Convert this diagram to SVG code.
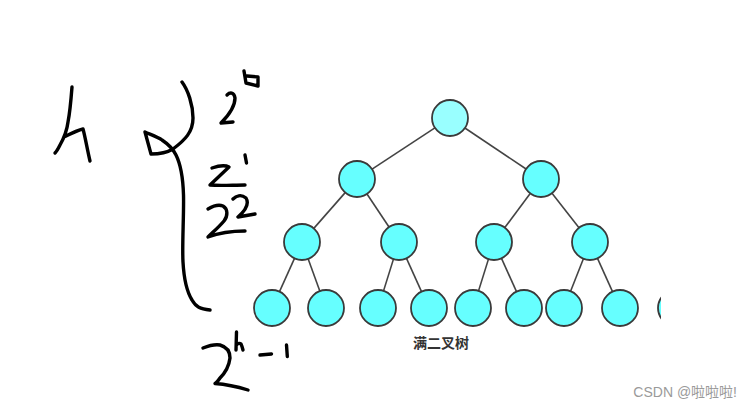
<svg xmlns="http://www.w3.org/2000/svg" width="754" height="410" viewBox="0 0 754 410">
<style>
.ink{fill:none;stroke:#000;stroke-width:3.4;stroke-linecap:round;stroke-linejoin:round}
.edge{stroke:#444;stroke-width:1.6;fill:none}
.n{fill:#66ffff;stroke:#3a3a3a;stroke-width:1.8}
.root{fill:#99ffff;stroke:#3a3a3a;stroke-width:1.8}
.cap{font-family:"Noto Sans CJK SC","Liberation Sans",sans-serif;font-size:14px;font-weight:bold;fill:#333;text-anchor:middle}
.wm{font-family:"Liberation Sans","Noto Sans CJK SC",sans-serif;font-size:14px;fill:#9a9a9a;text-anchor:end}
</style>
<defs>
<clipPath id="clipR"><rect x="250" y="80" width="411" height="280"/></clipPath>
</defs>
<rect width="754" height="410" fill="#fff"/>

<g id="handwriting">
<path id="h" class="ink" d="M72,87 C71,100 70,112 68,122 C67,130 64,138 60,145 C58,149 56,152 55,153 M64,137 C70,134 78,130 83,129 C85,136 87,148 90,161"/>
<path id="bracket" class="ink" d="M182,82 C188,90 193,105 193,118 C193,132 185,140 173,149 C168,152 160,154 151,154 L145,132 C152,135 158,137 162,140 C168,144 173,149 176,155 C181,165 183,178 183.5,195 C184,215 182,245 183,262 C184,280 187,292 192,300 C196,307 200,309 210,310"/>
<path id="two0" class="ink" d="M227,95 C230,92 234,92 235,98 C235,106 230,114 221,123 L233,122"/>
<path id="sup0" class="ink" d="M244,71 L246,83 L258,86 L258,77 L247,76"/>
<path id="two1" class="ink" d="M212,168 C218,166 225,165 229,167 L210,185 C220,186 233,185 245,185"/>
<path id="sup1" class="ink" d="M245,155 L246.5,163"/>
<path id="two2" class="ink" d="M208,209 C213,206 218,204 223,206 C228,209 228,216 224,221 C219,227 213,232 208,237 C216,234 226,231 245,231"/>
<path id="sup2" class="ink" d="M233,199 C236,196 241,194 246,198 C249,203 246,210 238,217 L255,214"/>
<path id="twoh" class="ink" d="M203,348 C208,346 214,344 220,345 C227,347 230,352 230,358 C229,366 225,373 220,378 C218,381 216,383 215,383.5 C222,384 235,386 248,390"/>
<path id="suph" class="ink" d="M236.5,332 L236,350 M236.5,345 C238,343 240,343 241,344 C242,346 242.5,348 243,350"/>
<path id="minus1" class="ink" d="M260,355 L271.5,354 M286.5,345 L287.3,356.5"/>
</g>

<g id="connectors">
<line class="edge" x1="434.9" y1="127.9" x2="372.1" y2="169.1"/>
<line class="edge" x1="464.9" y1="128" x2="526.1" y2="169"/>
<line class="edge" x1="345.2" y1="192.6" x2="313.8" y2="228.4"/>
<line class="edge" x1="367" y1="194" x2="389" y2="227"/>
<line class="edge" x1="530.2" y1="193.4" x2="504.8" y2="227.6"/>
<line class="edge" x1="552" y1="193.2" x2="579" y2="227.8"/>
<line class="edge" x1="294.5" y1="258.4" x2="279.5" y2="291.6"/>
<line class="edge" x1="308.2" y1="258.9" x2="319.8" y2="291.1"/>
<line class="edge" x1="393.5" y1="259.1" x2="383.5" y2="290.9"/>
<line class="edge" x1="406.5" y1="258.4" x2="421.5" y2="291.6"/>
<line class="edge" x1="488.5" y1="259.1" x2="478.5" y2="290.9"/>
<line class="edge" x1="501.5" y1="258.4" x2="516.5" y2="291.6"/>
<line class="edge" x1="583.4" y1="258.7" x2="570.6" y2="291.3"/>
<line class="edge" x1="597.5" y1="258.4" x2="612.5" y2="291.6"/>
</g>

<g id="n0"><circle class="root" cx="450" cy="118" r="18"/></g>
<g id="n1"><circle class="n" cx="357" cy="179" r="18"/></g>
<g id="n2"><circle class="n" cx="541" cy="179" r="18"/></g>
<g id="n3"><circle class="n" cx="302" cy="242" r="18"/></g>
<g id="n4"><circle class="n" cx="399" cy="242" r="18"/></g>
<g id="n5"><circle class="n" cx="494" cy="242" r="18"/></g>
<g id="n6"><circle class="n" cx="590" cy="242" r="18"/></g>
<g id="n7"><circle class="n" cx="272" cy="308" r="18"/></g>
<g id="n8"><circle class="n" cx="326" cy="308" r="18"/></g>
<g id="n9"><circle class="n" cx="378" cy="308" r="18"/></g>
<g id="n10"><circle class="n" cx="429" cy="308" r="18"/></g>
<g id="n11"><circle class="n" cx="473" cy="308" r="18"/></g>
<g id="n12"><circle class="n" cx="524" cy="308" r="18"/></g>
<g id="n13"><circle class="n" cx="564" cy="308" r="18"/></g>
<g id="n14"><circle class="n" cx="620" cy="308" r="18"/></g>
<g id="n15" clip-path="url(#clipR)"><circle class="n" cx="676" cy="308" r="18"/></g>

<text class="cap" x="441" y="348">满二叉树</text>
<text class="wm" x="737" y="397">CSDN @啦啦啦!</text>
</svg>
